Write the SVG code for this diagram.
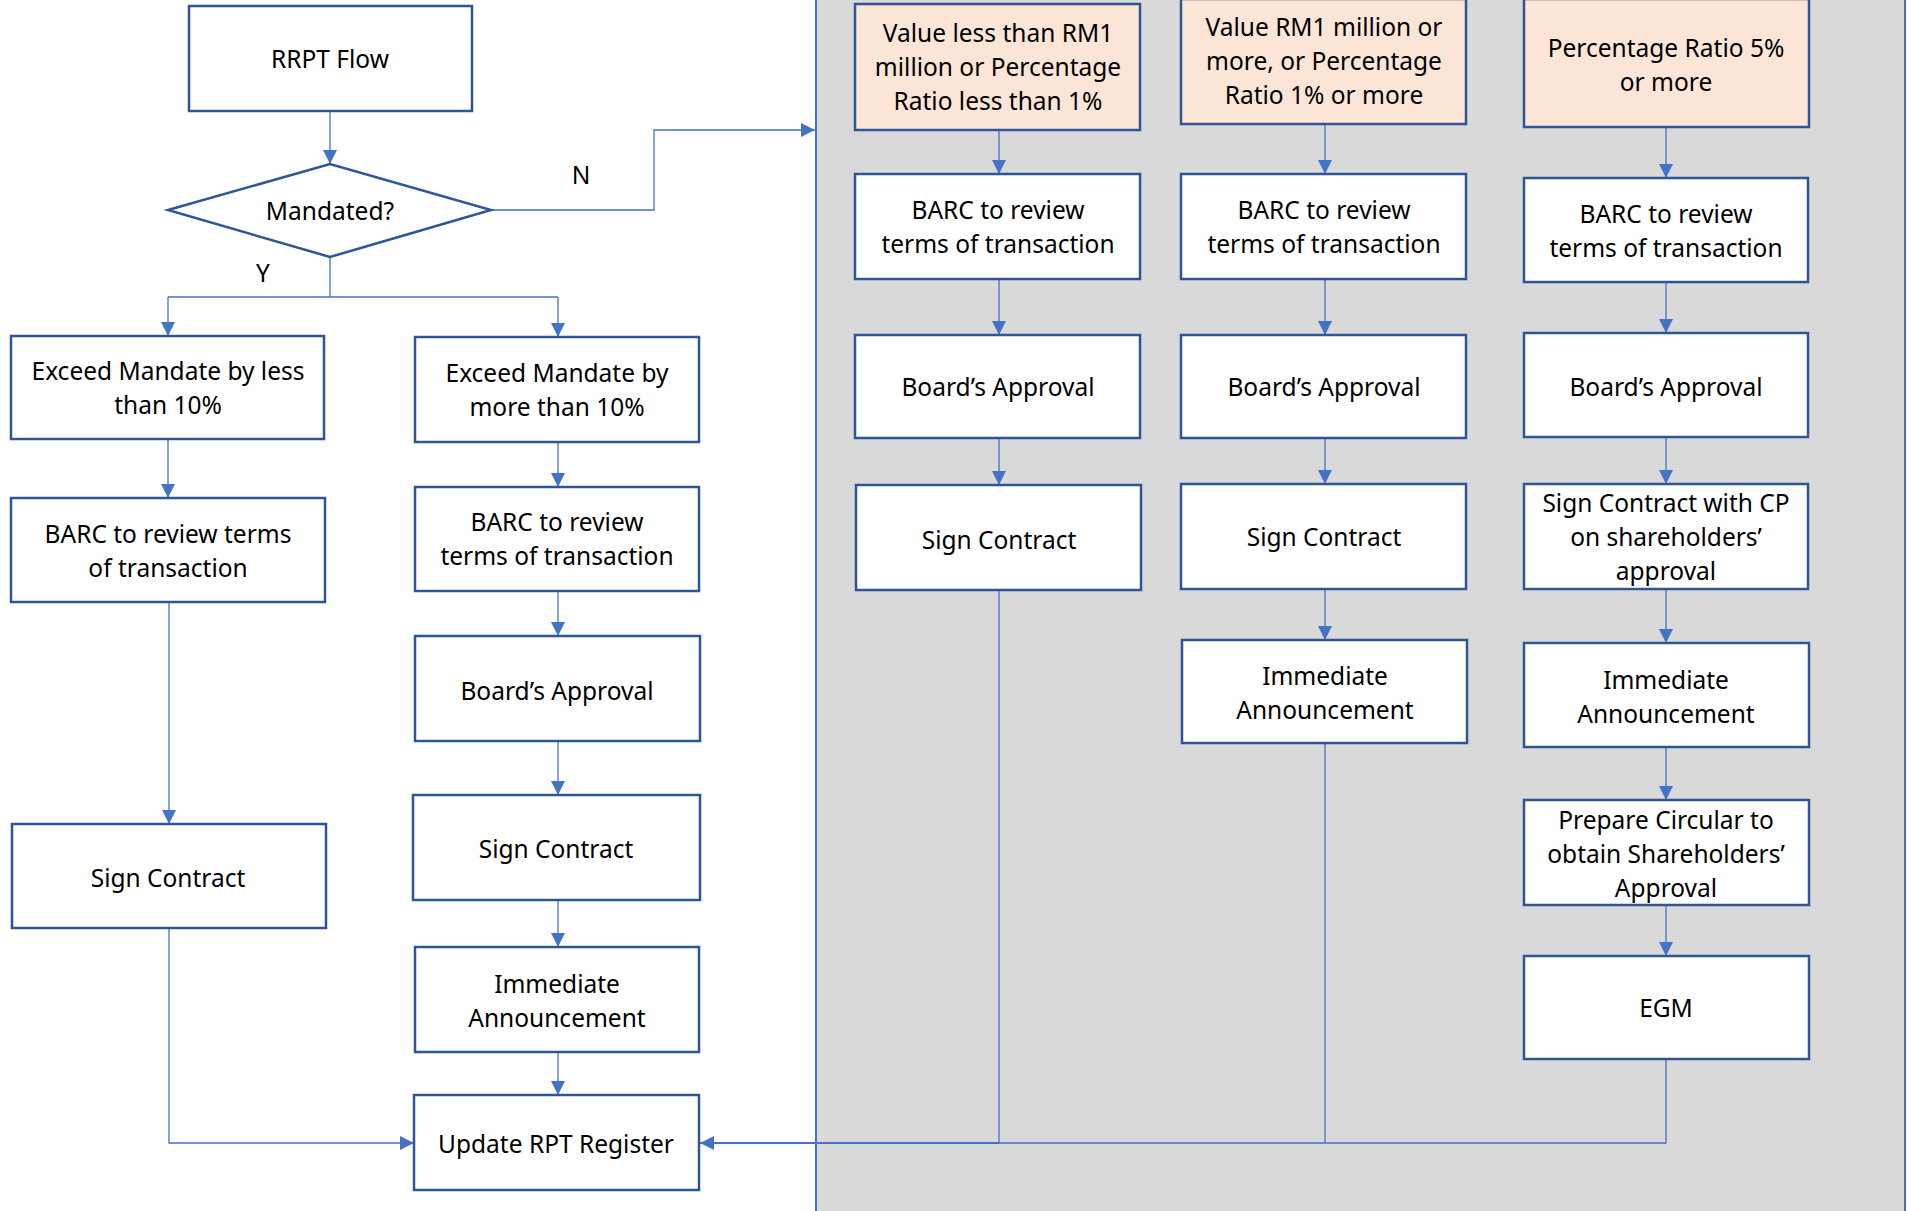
<svg xmlns="http://www.w3.org/2000/svg" width="1907" height="1211" viewBox="0 0 1907 1211">
<defs>
<marker id="ah" markerUnits="userSpaceOnUse" markerWidth="14" markerHeight="14" viewBox="0 0 12 12" refX="12" refY="6" orient="auto">
<path d="M0,0 L12,6 L0,12 Z" fill="#4472C4"/>
</marker>
</defs>
<style>
.box{fill:#FFFFFF;stroke:#2F5597;stroke-width:2.5}
.pe{fill:#FBE5D6;stroke:#2F5597;stroke-width:2.5}
.t{font-family:"Noto Sans","Open Sans",sans-serif;font-size:24.5px;fill:#000;text-anchor:middle;dominant-baseline:central}
.c{fill:none;stroke:#4472C4;stroke-width:1.3}
.ca{fill:none;stroke:#4472C4;stroke-width:1.3;marker-end:url(#ah)}
</style>
<rect width="1907" height="1211" fill="#FFFFFF"/>
<rect id="panel" x="816" y="-5" width="1089" height="1225" fill="#D9D9D9" stroke="#4472C4" stroke-width="2"/>

<g id="connectors">
<path class="ca" d="M330,111 V164"/>
<path class="ca" d="M491,210 H654 V130 H815"/>
<path class="c" d="M330,257 V297"/>
<path class="c" d="M168,297 H558"/>
<path class="ca" d="M168,297 V336"/>
<path class="ca" d="M558,297 V337"/>
<path class="ca" d="M168,439 V498"/>
<path class="ca" d="M558,442 V487"/>
<path class="ca" d="M558,591 V636"/>
<path class="ca" d="M558,741 V795"/>
<path class="ca" d="M558,900 V947"/>
<path class="ca" d="M558,1052 V1095"/>
<path class="ca" d="M169,602 V824"/>
<path class="ca" d="M169,928 V1143 H414"/>
<path class="ca" d="M999,130 V174"/>
<path class="ca" d="M999,279 V335"/>
<path class="ca" d="M999,438 V485"/>
<path class="c" d="M999,590 V1143"/>
<path class="ca" d="M1325,124 V174"/>
<path class="ca" d="M1325,279 V335"/>
<path class="ca" d="M1325,438 V484"/>
<path class="ca" d="M1325,589 V640"/>
<path class="c" d="M1325,743 V1143"/>
<path class="ca" d="M1666,127 V178"/>
<path class="ca" d="M1666,282 V333"/>
<path class="ca" d="M1666,437 V484"/>
<path class="ca" d="M1666,589 V643"/>
<path class="ca" d="M1666,747 V800"/>
<path class="ca" d="M1666,905 V956"/>
<path class="c" d="M1666,1059 V1143 H999"/>
<path fill="none" stroke="#4472C4" stroke-width="2.2" marker-end="url(#ah)" d="M999,1143 H700"/>
</g>

<text class="t" x="581" y="174">N</text>
<text class="t" x="263" y="272">Y</text>

<g id="n-rrpt"><rect class="box" x="189" y="6" width="283" height="105"/><text class="t" x="330" y="58">RRPT Flow</text></g>
<g id="n-mandated"><polygon points="168,210 330,164 491,210 330,257" fill="#FFFFFF" stroke="#2F5597" stroke-width="2.5"/><text class="t" x="330" y="210">Mandated?</text></g>
<g id="n-exceed-less"><rect class="box" x="11" y="336" width="313" height="103"/><text class="t" x="168" y="370">Exceed Mandate by less</text><text class="t" x="168" y="404">than 10%</text></g>
<g id="n-exceed-more"><rect class="box" x="415" y="337" width="284" height="105"/><text class="t" x="557" y="372">Exceed Mandate by</text><text class="t" x="557" y="406">more than 10%</text></g>
<g id="n-barc-l"><rect class="box" x="11" y="498" width="314" height="104"/><text class="t" x="168" y="533">BARC to review terms</text><text class="t" x="168" y="567">of transaction</text></g>
<g id="n-barc-r"><rect class="box" x="415" y="487" width="284" height="104"/><text class="t" x="557" y="521">BARC to review</text><text class="t" x="557" y="555">terms of transaction</text></g>
<g id="n-board-r"><rect class="box" x="415" y="636" width="285" height="105"/><text class="t" x="557" y="690">Board’s Approval</text></g>
<g id="n-sign-r"><rect class="box" x="413" y="795" width="287" height="105"/><text class="t" x="556" y="848">Sign Contract</text></g>
<g id="n-ann-r"><rect class="box" x="415" y="947" width="284" height="105"/><text class="t" x="557" y="983">Immediate</text><text class="t" x="557" y="1017">Announcement</text></g>
<g id="n-update"><rect class="box" x="414" y="1095" width="285" height="95"/><text class="t" x="556" y="1143">Update RPT Register</text></g>
<g id="n-sign-l"><rect class="box" x="12" y="824" width="314" height="104"/><text class="t" x="168" y="877">Sign Contract</text></g>

<g id="n-c1-head"><rect class="pe" x="855" y="4" width="285" height="126"/><text class="t" x="998" y="32">Value less than RM1</text><text class="t" x="998" y="66">million or Percentage</text><text class="t" x="998" y="100">Ratio less than 1%</text></g>
<g id="n-c1-barc"><rect class="box" x="855" y="174" width="285" height="105"/><text class="t" x="998" y="209">BARC to review</text><text class="t" x="998" y="243">terms of transaction</text></g>
<g id="n-c1-board"><rect class="box" x="855" y="335" width="285" height="103"/><text class="t" x="998" y="386">Board’s Approval</text></g>
<g id="n-c1-sign"><rect class="box" x="856" y="485" width="285" height="105"/><text class="t" x="999" y="539">Sign Contract</text></g>

<g id="n-c2-head"><rect class="pe" x="1181" y="-1" width="285" height="125"/><text class="t" x="1324" y="26">Value RM1 million or</text><text class="t" x="1324" y="60">more, or Percentage</text><text class="t" x="1324" y="94">Ratio 1% or more</text></g>
<g id="n-c2-barc"><rect class="box" x="1181" y="174" width="285" height="105"/><text class="t" x="1324" y="209">BARC to review</text><text class="t" x="1324" y="243">terms of transaction</text></g>
<g id="n-c2-board"><rect class="box" x="1181" y="335" width="285" height="103"/><text class="t" x="1324" y="386">Board’s Approval</text></g>
<g id="n-c2-sign"><rect class="box" x="1181" y="484" width="285" height="105"/><text class="t" x="1324" y="536">Sign Contract</text></g>
<g id="n-c2-ann"><rect class="box" x="1182" y="640" width="285" height="103"/><text class="t" x="1325" y="675">Immediate</text><text class="t" x="1325" y="709">Announcement</text></g>

<g id="n-c3-head"><rect class="pe" x="1524" y="-1" width="285" height="128"/><text class="t" x="1666" y="47">Percentage Ratio 5%</text><text class="t" x="1666" y="81">or more</text></g>
<g id="n-c3-barc"><rect class="box" x="1524" y="178" width="284" height="104"/><text class="t" x="1666" y="213">BARC to review</text><text class="t" x="1666" y="247">terms of transaction</text></g>
<g id="n-c3-board"><rect class="box" x="1524" y="333" width="284" height="104"/><text class="t" x="1666" y="386">Board’s Approval</text></g>
<g id="n-c3-sign"><rect class="box" x="1524" y="484" width="284" height="105"/><text class="t" x="1666" y="502">Sign Contract with CP</text><text class="t" x="1666" y="536">on shareholders’</text><text class="t" x="1666" y="570">approval</text></g>
<g id="n-c3-ann"><rect class="box" x="1524" y="643" width="285" height="104"/><text class="t" x="1666" y="679">Immediate</text><text class="t" x="1666" y="713">Announcement</text></g>
<g id="n-c3-circ"><rect class="box" x="1524" y="800" width="285" height="105"/><text class="t" x="1666" y="819">Prepare Circular to</text><text class="t" x="1666" y="853">obtain Shareholders’</text><text class="t" x="1666" y="887">Approval</text></g>
<g id="n-c3-egm"><rect class="box" x="1524" y="956" width="285" height="103"/><text class="t" x="1666" y="1007">EGM</text></g>
</svg>
